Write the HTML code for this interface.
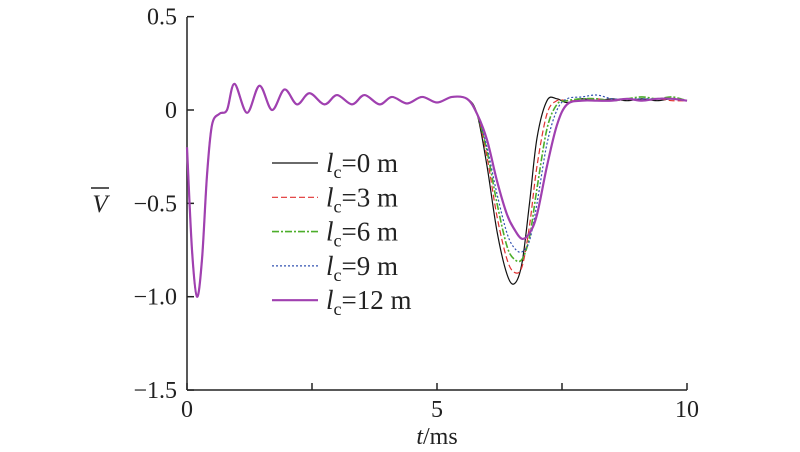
<!DOCTYPE html>
<html><head><meta charset="utf-8"><style>
body{margin:0;background:#fff;}
svg{display:block;font-family:"Liberation Serif",serif;}
</style></head><body>
<svg id="chart" width="800" height="452" viewBox="0 0 800 452" xmlns="http://www.w3.org/2000/svg">
<g id="axes"></g>
<g id="series"></g>
<g id="legend"></g>
</svg>
<script>
const times=[0,0.1,0.2,0.3,0.4,0.5,0.65,0.8,0.95,1.2,1.45,1.7,1.95,2.2,2.45,2.75,3.0,3.3,3.55,3.85,4.1,4.4,4.7,5.0,5.3,5.6,5.8,6.0,6.2,6.4,6.55,6.7,6.85,7.0,7.2,7.4,7.6,7.9,8.2,8.5,8.8,9.1,9.4,9.7,10];
const early=[-0.2,-0.75,-1.0,-0.8,-0.35,-0.08,-0.02,0.0,0.14,-0.015,0.13,0.0,0.11,0.03,0.09,0.03,0.08,0.03,0.08,0.03,0.07,0.035,0.07,0.04,0.07,0.06];
const dip0=[-0.02,-0.3,-0.65,-0.88,-0.93,-0.82,-0.5,-0.15,0.05,0.06,0.04,0.06,0.05,0.06,0.05,0.06,0.05,0.06,0.05];
const dip3=[-0.02,-0.25,-0.57,-0.8,-0.87,-0.84,-0.62,-0.3,-0.02,0.05,0.05,0.05,0.06,0.05,0.06,0.05,0.06,0.05,0.05];
const dip6=[-0.02,-0.22,-0.5,-0.73,-0.8,-0.8,-0.68,-0.42,-0.1,0.03,0.05,0.06,0.06,0.05,0.06,0.07,0.06,0.07,0.05];
const dip9=[-0.02,-0.2,-0.45,-0.66,-0.74,-0.76,-0.7,-0.5,-0.18,0.0,0.06,0.07,0.08,0.06,0.06,0.06,0.06,0.06,0.05];
const dip12=[-0.02,-0.16,-0.38,-0.56,-0.64,-0.69,-0.66,-0.56,-0.3,-0.08,0.03,0.05,0.05,0.05,0.06,0.05,0.06,0.06,0.05];
const labels=["0","3","6","9","12"];
const xTicks=[0,5,10];
const xMinor=[2.5,7.5];
const yTicks=[0.5,0,-0.5,-1.0,-1.5];
const yTickLabels=["0.5","0","\u22120.5","\u22121.0","\u22121.5"];

const NS="http://www.w3.org/2000/svg";
const X=t=>187+50*t;
const Y=v=>110-186.7*v;
function mk(tag,attrs,parent){const e=document.createElementNS(NS,tag);for(const k in attrs)e.setAttribute(k,attrs[k]);parent.appendChild(e);return e;}
const axes=document.getElementById('axes');
let a=mk('line',{x1:187,y1:17,x2:187,y2:390,stroke:'#222','stroke-width':1.5},axes);


a=mk('line',{x1:187,y1:390,x2:687,y2:390,stroke:'#222','stroke-width':1.5},axes);


yTicks.forEach((v,i)=>{
  const l=mk('line',{x1:187,y1:Y(v),x2:194,y2:Y(v),stroke:'#222','stroke-width':1.5},axes);
  
  
  const t=mk('text',{x:177,y:Y(v)+8,'text-anchor':'end','font-size':24,fill:'#222'},axes);
  t.textContent=yTickLabels[i];
  
  
});
xTicks.concat(xMinor).forEach(v=>{
  const l=mk('line',{x1:X(v),y1:390,x2:X(v),y2:383,stroke:'#222','stroke-width':1.5},axes);
  
  
});
xTicks.forEach(v=>{
  const t=mk('text',{x:X(v),y:417,'text-anchor':'middle','font-size':24,fill:'#222'},axes);
  t.textContent=String(v);
  
  
});
let xt=mk('text',{x:437,y:444,'text-anchor':'middle','font-size':24,fill:'#222'},axes);
xt.innerHTML='<tspan font-style="italic">t</tspan>/ms';


let yt=mk('text',{x:100,y:212,'text-anchor':'middle','font-size':25,'font-style':'italic',fill:'#222'},axes);
yt.textContent='V';


let ob=mk('line',{x1:91,y1:188,x2:109,y2:188,stroke:'#222','stroke-width':1.5},axes);



function pathD(vals){
  const p=times.map((t,i)=>[X(t),Y(vals[i])]);
  let d='M'+p[0][0]+','+p[0][1];
  for(let i=0;i<p.length-1;i++){
    const p0=p[Math.max(0,i-1)],p1=p[i],p2=p[i+1],p3=p[Math.min(p.length-1,i+2)];
    const c1=[p1[0]+(p2[0]-p0[0])/6,p1[1]+(p2[1]-p0[1])/6];
    const c2=[p2[0]-(p3[0]-p1[0])/6,p2[1]-(p3[1]-p1[1])/6];
    d+=` C${c1[0].toFixed(2)},${c1[1].toFixed(2)} ${c2[0].toFixed(2)},${c2[1].toFixed(2)} ${p2[0].toFixed(2)},${p2[1].toFixed(2)}`;
  }
  return d;
}
const styles=[
 {c:'#111',w:1.2,da:''},
 {c:'#e03030',w:1.2,da:'6,3'},
 {c:'#4cae2a',w:1.6,da:'7,2,2,2'},
 {c:'#3050b0',w:1.2,da:'2,2'},
 {c:'#a040b0',w:2.2,da:''}
];
const dips=[dip0,dip3,dip6,dip9,dip12];
const sg=document.getElementById('series');
const lg=document.getElementById('legend');
dips.forEach((dp,i)=>{
  const vals=early.concat(dp);
  const s=styles[i];
  const p=mk('path',{d:pathD(vals),fill:'none',stroke:s.c,'stroke-width':s.w,'stroke-dasharray':s.da},sg);
  
  
  const ly=163+34.3*i;
  const ll=mk('line',{x1:272,y1:ly,x2:318,y2:ly,stroke:s.c,'stroke-width':s.w,'stroke-dasharray':s.da},lg);
  
  
  const tx=mk('text',{x:326,y:ly+9,'font-size':27,fill:'#222'},lg);
  tx.innerHTML='<tspan font-style="italic">l</tspan><tspan font-size="18" dy="6">c</tspan><tspan dy="-6">='+labels[i]+' m</tspan>';
  
  
});
</script>
</body></html>
